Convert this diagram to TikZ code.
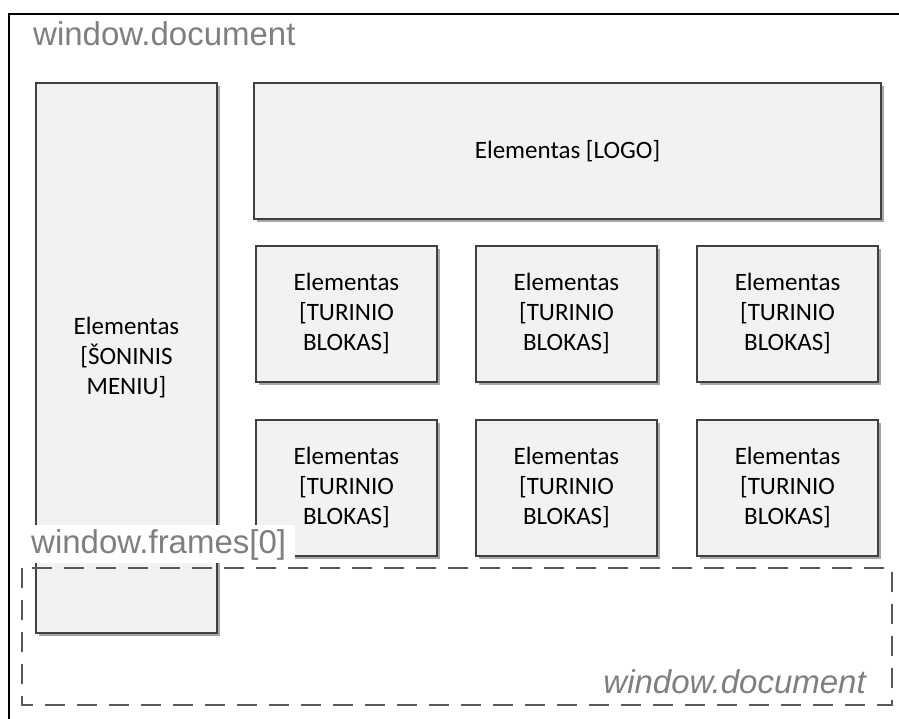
\documentclass[tikz,border=0pt]{standalone}
\usepackage{fontspec}
\setmainfont{Carlito}
\newfontfamily\labelfont{Liberation Sans}
\usetikzlibrary{shadows}
\definecolor{boxfill}{HTML}{F2F2F2}
\definecolor{boxline}{HTML}{404040}
\definecolor{lblgray}{HTML}{7F7F7F}
\definecolor{dashgray}{HTML}{595959}
\begin{document}
\begin{tikzpicture}[x=1pt,y=-1pt,
  elbox/.style={draw=boxline, line width=1.5pt, fill=boxfill, rectangle,
    inner sep=0pt, align=center, font=\fontsize{25}{30}\selectfont,
    drop shadow={shadow xshift=3pt, shadow yshift=-3pt, opacity=0.35, fill=black}},
  grid/.style={elbox, minimum width=181pt, minimum height=136pt},
  lbl/.style={text=lblgray, font=\labelfont\fontsize{33}{38}\selectfont, inner sep=0pt}
]
\useasboundingbox (0,0) rectangle (899,718);
\begin{scope}
\clip (0,0) rectangle (899,718);
\draw[black, line width=2.5pt] (9,14) rectangle (910,730);
\node[lbl, anchor=base west] (doclbl) at (33,45) {window.document};

\node[elbox, minimum width=181pt, minimum height=550pt] (side) at (126.5,358) {Elementas\\{[}ŠONINIS\\MENIU{]}};
\node[elbox, minimum width=627pt, minimum height=136pt] (logo) at (567.5,151) {Elementas {[}LOGO{]}};

\node[grid] (b1) at (346.5,314) {Elementas\\{[}TURINIO\\BLOKAS{]}};
\node[grid] (b2) at (566.5,314) {Elementas\\{[}TURINIO\\BLOKAS{]}};
\node[grid] (b3) at (787.5,314) {Elementas\\{[}TURINIO\\BLOKAS{]}};
\node[grid] (b4) at (346.5,488) {Elementas\\{[}TURINIO\\BLOKAS{]}};
\node[grid] (b5) at (566.5,488) {Elementas\\{[}TURINIO\\BLOKAS{]}};
\node[grid] (b6) at (787.5,488) {Elementas\\{[}TURINIO\\BLOKAS{]}};

\node[fill=white, minimum width=272pt, minimum height=38pt, inner sep=0pt, anchor=north west] (frbg) at (23,525) {};
\node[lbl, anchor=base west] (frlbl) at (31,553) {window.frames[0]};

\draw[dashgray, line width=1.5pt, dash pattern=on 20pt off 12pt] (22,568) rectangle (892,705);
\node[lbl, anchor=base east, font=\labelfont\itshape\fontsize{33}{38}\selectfont] (doclbl2) at (866,693) {window.document};
\end{scope}
\end{tikzpicture}
\end{document}
